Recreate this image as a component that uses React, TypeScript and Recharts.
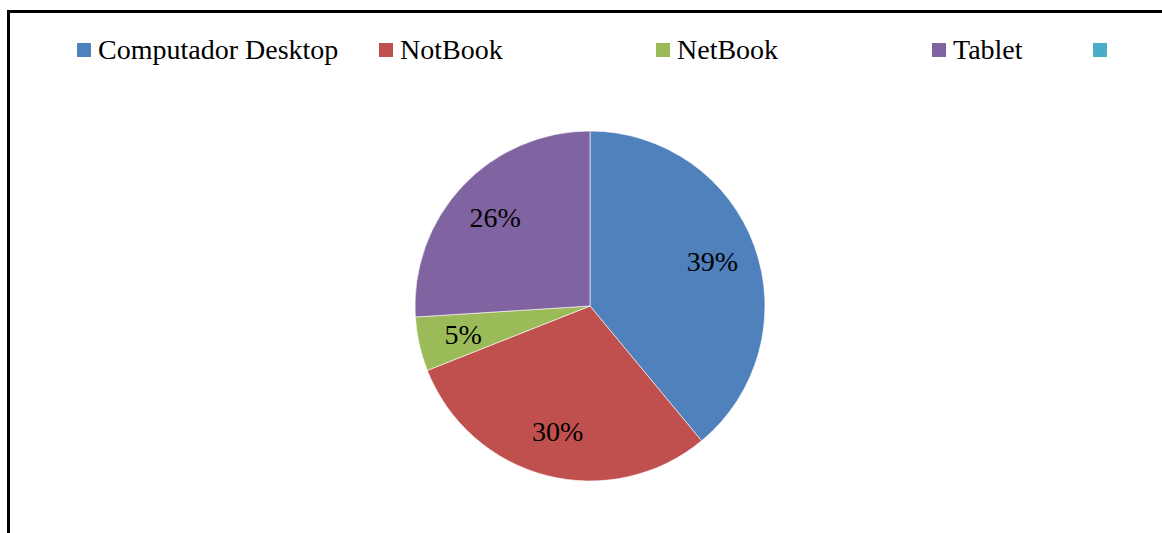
import React from 'react';
import { PieChart, Pie, Cell, Legend } from 'recharts';

const categories = ['Computador Desktop', 'NotBook', 'NetBook', 'Tablet', ''];
const shares = [39, 30, 5, 26, 0];
const colors = ['#4F81BD', '#C0504D', '#9BBB59', '#8064A2', '#4BACC6'];

const legendLeft = [77, 379, 656, 932, 1093];

const chartData = categories.map((name, i) => ({ name, value: shares[i] }));

const FONT = '"Liberation Serif", "Times New Roman", serif';
const RADIAN = Math.PI / 180;

function renderLabel(props: any) {
  const { cx, cy, midAngle, value } = props;
  if (!value) return null;
  const r = 130;
  const x = cx + r * Math.cos(-midAngle * RADIAN);
  const y = cy + r * Math.sin(-midAngle * RADIAN);
  return (
    <text
      x={x}
      y={y}
      textAnchor="middle"
      dominantBaseline="central"
      fontFamily={FONT}
      fontSize={28}
      fill="#000"
    >
      {value}%
    </text>
  );
}

function renderLegend() {
  return (
    <div style={{ position: 'relative', width: 1162, height: 30 }}>
      {categories.map((name, i) => (
        <div
          key={i}
          style={{
            position: 'absolute',
            left: legendLeft[i],
            top: 0,
            display: 'flex',
            alignItems: 'center',
            height: 30,
            whiteSpace: 'nowrap',
          }}
        >
          <span
            style={{
              display: 'inline-block',
              width: 14,
              height: 14,
              background: colors[i],
              marginRight: 7,
            }}
          />
          <span style={{ fontFamily: FONT, fontSize: 28, color: '#000', lineHeight: '30px' }}>
            {name}
          </span>
        </div>
      ))}
    </div>
  );
}

export default function App() {
  return (
    <div style={{ position: 'absolute', left: 0, top: 0, width: 1162, height: 533, overflow: 'hidden', background: '#fff' }}>
      {/* chart frame, cut off on the right and bottom */}
      <div
        style={{
          position: 'absolute',
          left: 7,
          top: 10,
          width: 1200,
          height: 600,
          borderLeft: '3px solid #000',
          borderTop: '3px solid #000',
          boxSizing: 'border-box',
        }}
      />
      <div style={{ position: 'absolute', left: 0, top: 0 }}>
        <PieChart width={1162} height={533} margin={{ top: 0, right: 0, bottom: 0, left: 0 }}>
          <Legend
            content={renderLegend}
            verticalAlign="top"
            wrapperStyle={{ top: 35, left: 0, width: 1162 }}
          />
          <Pie
            data={chartData}
            dataKey="value"
            nameKey="name"
            cx={590}
            cy={276}
            outerRadius={175}
            startAngle={90}
            endAngle={-270}
            stroke="#ffffff"
            strokeWidth={0.6}
            label={renderLabel}
            labelLine={false}
            isAnimationActive={false}
          >
            {chartData.map((entry, index) => (
              <Cell key={index} fill={colors[index]} />
            ))}
          </Pie>
        </PieChart>
      </div>
    </div>
  );
}
